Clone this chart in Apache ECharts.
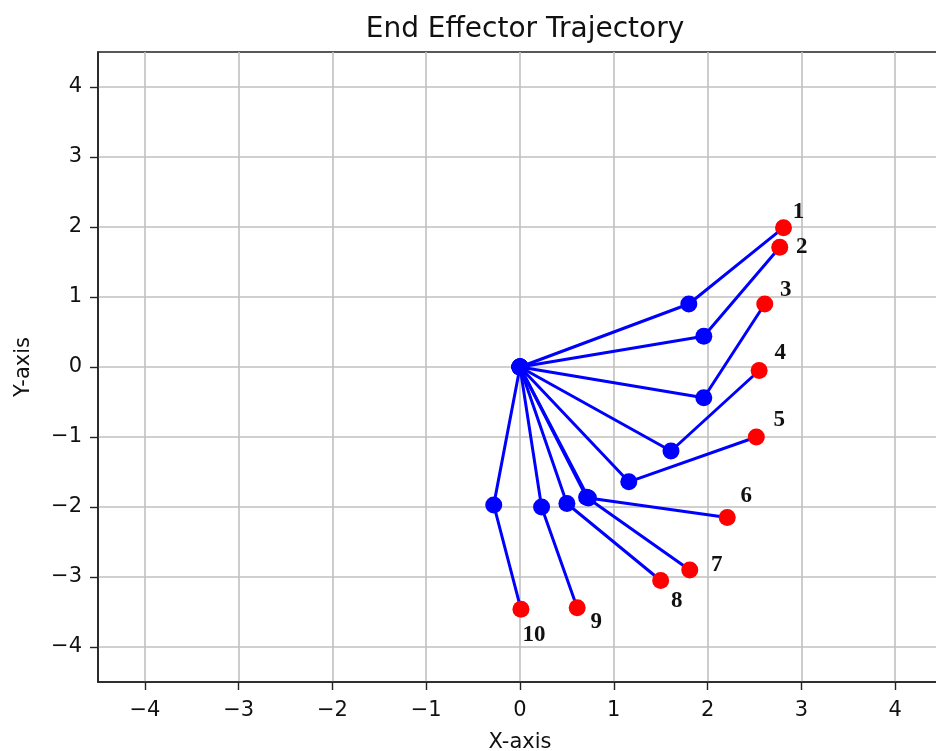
<!DOCTYPE html>
<html>
<head>
<meta charset="utf-8">
<script src="https://cdn.jsdelivr.net/npm/echarts@6/dist/echarts.min.js"></script>
<style>
html,body{margin:0;padding:0;background:#fff;}
#c{width:936px;height:751px;}
</style>
</head>
<body>
<div id="c"></div>
<script>
// Data
const armLabels = ['1','2','3','4','5','6','7','8','9','10'];
const baseX = [0,0,0,0,0,0,0,0,0,0];
const baseY = [0,0,0,0,0,0,0,0,0,0];
const elbowX = [1.80, 1.96, 1.96, 1.61, 1.16, 0.73, 0.71, 0.50, 0.23, -0.28];
const elbowY = [0.90, 0.44, -0.44, -1.20, -1.64, -1.87, -1.86, -1.95, -2.00, -1.97];
const endX = [2.81, 2.77, 2.61, 2.55, 2.52, 2.21, 1.81, 1.50, 0.61, 0.01];
const endY = [1.99, 1.71, 0.90, -0.05, -1.00, -2.15, -2.90, -3.05, -3.44, -3.46];
const xTicks = [-4,-3,-2,-1,0,1,2,3,4];
const yTicks = [-4,-3,-2,-1,0,1,2,3,4];

// label pixel offsets (styling)
const labelOffsets = [[15,-16],[22,0],[21,-14],[21,-17],[23,-17],[19,-21],[27,-5],[16,21],[19,14],[13,26]];

const BLUE = '#0000ff', RED = '#ff0000';
const series = [];
for (let i = 0; i < armLabels.length; i++) {
  series.push({
    type: 'line',
    symbol: 'circle',
    symbolSize: 17,
    lineStyle: { color: BLUE, width: 3 },
    z: 3,
    data: [
      { value: [baseX[i], baseY[i]], itemStyle: { color: BLUE } },
      { value: [elbowX[i], elbowY[i]], itemStyle: { color: BLUE } },
      { value: [endX[i], endY[i]], itemStyle: { color: RED },
        label: { show: true, position: 'inside', offset: labelOffsets[i],
          formatter: armLabels[i], fontFamily: '"Liberation Serif", "DejaVu Serif", serif',
          fontWeight: 'bold', fontSize: 23, color: '#111' } }
    ],
    animation: false
  });
}

const axisFont = '"DejaVu Sans", sans-serif';
const chart = echarts.init(document.getElementById('c'), null, { renderer: 'canvas' });
chart.setOption({
  backgroundColor: '#fff',
  animation: false,
  title: {
    text: 'End Effector Trajectory',
    left: 520, top: 11, textAlign: 'center',
    textStyle: { fontFamily: axisFont, fontSize: 28, fontWeight: 'normal', color: '#111' }
  },
  grid: {
    left: 98, top: 52, bottom: 69, right: -6,
    outerBoundsMode: 'none', containLabel: false,
    show: true, borderColor: '#222', borderWidth: 1.6, backgroundColor: 'transparent'
  },
  xAxis: {
    type: 'value', min: -4.5, max: 4.5,
    interval: 1,
    name: 'X-axis', nameLocation: 'middle', nameGap: 50,
    nameTextStyle: { fontFamily: axisFont, fontSize: 21, color: '#111' },
    axisLine: { show: true, onZero: false, lineStyle: { color: '#222', width: 1.6 } },
    axisTick: { show: true, length: 8, lineStyle: { color: '#222', width: 1.4 }, customValues: xTicks },
    axisLabel: { fontFamily: axisFont, fontSize: 21, color: '#111', margin: 18,
      customValues: xTicks, formatter: v => (v < 0 ? '\u2212' + Math.abs(v) : String(v)) },
    splitLine: { show: true, lineStyle: { color: '#c0c0c0', width: 1.6 } }
  },
  yAxis: {
    type: 'value', min: -4.5, max: 4.5,
    interval: 1,
    name: 'Y-axis', nameLocation: 'middle', nameGap: 64,
    nameTextStyle: { fontFamily: axisFont, fontSize: 21, color: '#111' },
    axisLine: { show: true, onZero: false, lineStyle: { color: '#222', width: 1.6 } },
    axisTick: { show: true, length: 8, lineStyle: { color: '#222', width: 1.4 }, customValues: yTicks },
    axisLabel: { fontFamily: axisFont, fontSize: 21, color: '#111', margin: 16,
      customValues: yTicks, formatter: v => (v < 0 ? '\u2212' + Math.abs(v) : String(v)) },
    splitLine: { show: true, lineStyle: { color: '#c0c0c0', width: 1.6 } }
  },
  series: series
});
</script>
</body>
</html>
